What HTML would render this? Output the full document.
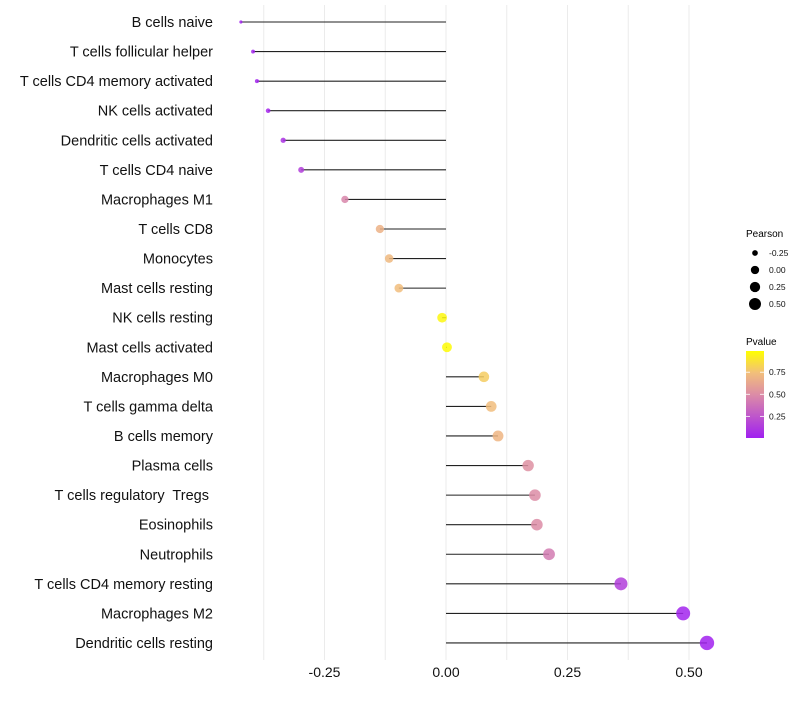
<!DOCTYPE html>
<html><head><meta charset="utf-8"><style>
body{margin:0;background:#fff;font-family:"Liberation Sans",sans-serif}
svg text{font-family:"Liberation Sans",sans-serif;white-space:pre}
</style></head><body>
<svg id="chart" width="800" height="700" xmlns="http://www.w3.org/2000/svg">
<defs><linearGradient id="pg" x1="0" y1="1" x2="0" y2="0">
<stop offset="0" stop-color="#A020F0"/><stop offset="0.5" stop-color="#DC8CA6"/><stop offset="0.75" stop-color="#F2BF7A"/><stop offset="1" stop-color="#FFFF00"/></linearGradient></defs>
<g id="grid"></g>
<g id="marks"></g>
<g id="ylab"></g>
<g id="xlab"></g>
<g id="sleg">
<text x="746" y="237" font-size="10" fill="#000">Pearson</text>
</g>
<g id="cleg">
<text x="746" y="345" font-size="10" fill="#000">Pvalue</text>
<rect x="746" y="351" width="18" height="87" fill="url(#pg)"/>
</g>
</svg>
<script>
const categories=["B cells naive","T cells follicular helper","T cells CD4 memory activated","NK cells activated","Dendritic cells activated","T cells CD4 naive","Macrophages M1","T cells CD8","Monocytes","Mast cells resting","NK cells resting","Mast cells activated","Macrophages M0","T cells gamma delta","B cells memory","Plasma cells","T cells regulatory  Tregs ","Eosinophils","Neutrophils","T cells CD4 memory resting","Macrophages M2","Dendritic cells resting"];
const pearson=[-0.422,-0.397,-0.389,-0.366,-0.335,-0.298,-0.208,-0.136,-0.117,-0.097,-0.008,0.002,0.078,0.093,0.107,0.169,0.183,0.187,0.212,0.360,0.488,0.537];
const pvalue=[0.01,0.02,0.02,0.03,0.08,0.14,0.47,0.68,0.72,0.74,0.97,0.99,0.8,0.74,0.7,0.52,0.5,0.5,0.42,0.14,0.02,0.005];
const xTicks=[-0.25,0,0.25,0.5];
const xTickLabels=["-0.25","0.00","0.25","0.50"];
const sizeLegendVals=[-0.25,0,0.25,0.5];
const sizeLegendLabels=["-0.25","0.00","0.25","0.50"];
const colorLegendVals=[0.25,0.5,0.75];
const colorLegendLabels=["0.25","0.50","0.75"];
const NS="http://www.w3.org/2000/svg";
function mk(t,a,p){const e=document.createElementNS(NS,t);for(const k in a)e.setAttribute(k,a[k]);p.appendChild(e);return e;}
const x=v=>446+v*486;
const y=i=>22+i*29.57;
const minV=Math.min(...pearson),maxV=Math.max(...pearson);
const r=v=>Math.sqrt(2.5+(v-minV)/(maxV-minV)*49);
function col(p){const st=[[0,[160,32,240]],[0.5,[220,140,166]],[0.75,[242,191,122]],[1,[255,255,0]]];
 for(let i=1;i<st.length;i++){if(p<=st[i][0]){const t=(p-st[i-1][0])/(st[i][0]-st[i-1][0]);const a=st[i-1][1],b=st[i][1];return `rgb(${a.map((c,j)=>Math.round(c+(b[j]-c)*t)).join(',')})`;}}return 'rgb(255,255,0)';}
const g=document.getElementById('grid');
for(let v=-0.375;v<=0.6;v+=0.125){const l=mk('line',{x1:x(v),x2:x(v),y1:5,y2:660,stroke:'#ebebeb','stroke-width':1},g);

}
const m=document.getElementById('marks'),yl=document.getElementById('ylab'),xl=document.getElementById('xlab');
categories.forEach((c,i)=>{
 const l=mk('line',{x1:x(0),x2:x(pearson[i]),y1:y(i),y2:y(i),stroke:'#222','stroke-width':1.1},m);
 
 
 const d=mk('circle',{cx:x(pearson[i]),cy:y(i),r:r(pearson[i]),fill:col(pvalue[i]),'fill-opacity':0.85},m);
 
 
 const t=mk('text',{x:213,y:y(i)+5,'text-anchor':'end','font-size':14.5,fill:'#111'},yl);t.textContent=c;
 
 
});
xTicks.forEach((v,i)=>{const t=mk('text',{x:x(v),y:677,'text-anchor':'middle','font-size':14,fill:'#111'},xl);t.textContent=xTickLabels[i];
 
 });
const sl=document.getElementById('sleg');
sizeLegendVals.forEach((v,i)=>{const cy=253+i*17;
 const c=mk('circle',{cx:755,cy:cy,r:r(v)*0.85,fill:'#000'},sl);
 
 
 const t=mk('text',{x:769,y:cy+3,'font-size':8.5,fill:'#111'},sl);t.textContent=sizeLegendLabels[i];
 
 });
const cl=document.getElementById('cleg');
const py=p=>438-(p-0.005)/(0.99-0.005)*87;
colorLegendVals.forEach((v,i)=>{
 mk('line',{x1:746,x2:750,y1:py(v),y2:py(v),stroke:'#fff','stroke-width':0.8},cl);
 mk('line',{x1:760,x2:764,y1:py(v),y2:py(v),stroke:'#fff','stroke-width':0.8},cl);
 const t=mk('text',{x:769,y:py(v)+3,'font-size':8.5,fill:'#111'},cl);t.textContent=colorLegendLabels[i];
 
 });
</script>
</body></html>
